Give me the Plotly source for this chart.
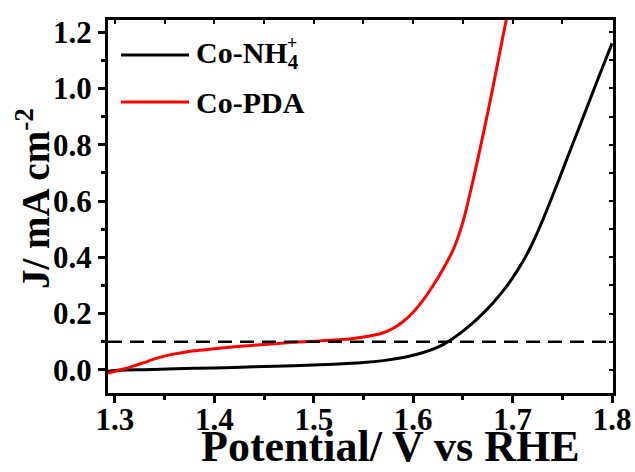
import plotly.graph_objects as go

# Linear sweep data (potential in V vs RHE, current density in mA cm^-2)
potential_nh4 = [1.293, 1.30, 1.33, 1.36, 1.40, 1.44, 1.48, 1.52, 1.55, 1.57, 1.59, 1.60,
                 1.61, 1.62, 1.63, 1.64, 1.65, 1.66, 1.67, 1.68, 1.69, 1.70, 1.71, 1.72,
                 1.73, 1.74, 1.75, 1.76, 1.77, 1.78, 1.79, 1.80]
current_nh4 = [-0.005, -0.002, 0.001, 0.004, 0.007, 0.011, 0.015, 0.020, 0.026, 0.033, 0.044, 0.052,
               0.062, 0.074, 0.090, 0.112, 0.138, 0.167, 0.200, 0.237, 0.279, 0.327, 0.383, 0.450,
               0.530, 0.617, 0.707, 0.798, 0.889, 0.980, 1.071, 1.16]

potential_pda = [1.293, 1.30, 1.31, 1.32, 1.33, 1.34, 1.35, 1.36, 1.37, 1.38, 1.40, 1.42,
                 1.44, 1.46, 1.48, 1.50, 1.52, 1.54, 1.55, 1.56, 1.57, 1.58, 1.59, 1.60,
                 1.61, 1.62, 1.63, 1.64, 1.65, 1.66, 1.67, 1.68, 1.69, 1.694]
current_pda = [-0.012, -0.005, 0.004, 0.015, 0.027, 0.039, 0.049, 0.057, 0.063, 0.068, 0.075, 0.082,
               0.088, 0.093, 0.098, 0.102, 0.106, 0.112, 0.117, 0.123, 0.132, 0.148, 0.172, 0.205,
               0.248, 0.300, 0.358, 0.425, 0.525, 0.670, 0.830, 1.000, 1.180, 1.250]

reference_current = 0.1
series_names = ["Co-NH<sub>4</sub>", "Co-PDA"]
x_title = "Potential/ V vs RHE"
y_title = "J/ mA cm<sup>-2</sup>"

x_range = [1.293, 1.801]
y_range = [-0.082, 1.243]

FONT = "Times New Roman, Liberation Serif, serif"
W, H = 635, 472
ML, MR, MT, MB = 108, 22, 20, 79

fig = go.Figure()

fig.add_trace(go.Scatter(x=potential_nh4, y=current_nh4, mode="lines",
                         line=dict(color="black", width=3, shape="spline", smoothing=0.8),
                         showlegend=False, hoverinfo="skip"))
fig.add_trace(go.Scatter(x=potential_pda, y=current_pda, mode="lines",
                         line=dict(color="#ff0000", width=3, shape="spline", smoothing=0.8),
                         showlegend=False, hoverinfo="skip"))
# dashed 0.1 mA cm^-2 marker, bound to the overlay axes so they render
fig.add_trace(go.Scatter(x=x_range, y=[reference_current, reference_current], mode="lines",
                         line=dict(color="black", width=2.5, dash="14px,8px"),
                         xaxis="x2", yaxis="y2", showlegend=False, hoverinfo="skip"))

tickfont = dict(family=FONT, size=31, color="black", weight="bold")

fig.update_layout(
    width=W, height=H,
    margin=dict(l=ML, r=MR, t=MT, b=MB),
    paper_bgcolor="white", plot_bgcolor="white",
    xaxis=dict(range=x_range, tickmode="linear", tick0=1.3, dtick=0.1, tickformat=".1f",
               ticks="outside", ticklen=7, tickwidth=2.5, tickcolor="black",
               minor=dict(tickmode="linear", tick0=1.35, dtick=0.1, ticks="outside",
                          ticklen=4, tickwidth=2.5, tickcolor="black"),
               showline=True, linewidth=3, linecolor="black", mirror=True,
               showgrid=False, zeroline=False, tickfont=tickfont, automargin=False,
               ticklabelstandoff=-10),
    yaxis=dict(range=y_range, tickmode="linear", tick0=0, dtick=0.2, tickformat=".1f",
               ticks="outside", ticklen=7, tickwidth=2.5, tickcolor="black",
               minor=dict(tickmode="linear", tick0=0.1, dtick=0.2, ticks="outside",
                          ticklen=4, tickwidth=2.5, tickcolor="black"),
               showline=True, linewidth=3, linecolor="black", mirror=True,
               showgrid=False, zeroline=False, tickfont=tickfont, automargin=False),
    xaxis2=dict(range=x_range, overlaying="x", side="top", anchor="y2",
                tickmode="linear", tick0=1.3, dtick=0.05, ticks="inside", ticklen=4,
                tickwidth=2, tickcolor="black", showticklabels=False, automargin=False,
                showline=False, showgrid=False, zeroline=False),
    yaxis2=dict(range=y_range, overlaying="y", side="right", anchor="x2",
                tickmode="linear", tick0=0, dtick=0.1, ticks="inside", ticklen=4,
                tickwidth=2, tickcolor="black", showticklabels=False, automargin=False,
                showline=False, showgrid=False, zeroline=False),
)

pw, ph = W - ML - MR, H - MT - MB
def px_to_paper(px, py):
    return (px - ML) / pw, 1 - (py - MT) / ph

# Axis titles
tx, ty = px_to_paper(390, 472)
fig.add_annotation(xref="paper", yref="paper", x=tx, y=ty, text=x_title,
                   xanchor="center", yanchor="bottom", showarrow=False, borderpad=0,
                   font=dict(family=FONT, size=44, color="black", weight="bold"))
tx, ty = px_to_paper(33, 199)
fig.add_annotation(xref="paper", yref="paper", x=tx, y=ty, text=y_title, textangle=-90,
                   xanchor="center", yanchor="middle", showarrow=False,
                   font=dict(family=FONT, size=39, color="black", weight="bold"))

# Legend drawn as sample lines + labels
legend_items = [("black", series_names[0], 55), ("#ff0000", series_names[1], 102)]
for color, label, py in legend_items:
    x0, y0 = px_to_paper(121, py)
    x1, _ = px_to_paper(189, py)
    fig.add_shape(type="line", xref="paper", yref="paper", x0=x0, x1=x1, y0=y0, y1=y0,
                  line=dict(color=color, width=3))
    lx, _ = px_to_paper(194, py)
    fig.add_annotation(xref="paper", yref="paper", x=lx, y=y0, text=label,
                       xanchor="left", yanchor="middle", showarrow=False,
                       font=dict(family=FONT, size=30, color="black", weight="bold"))

# superscript charge stacked above the subscript
sx, sy = px_to_paper(292, 43)
fig.add_annotation(xref="paper", yref="paper", x=sx, y=sy, text="+",
                   xanchor="center", yanchor="middle", showarrow=False,
                   font=dict(family=FONT, size=18, color="black", weight="bold"))

fig.write_html("out.html")
